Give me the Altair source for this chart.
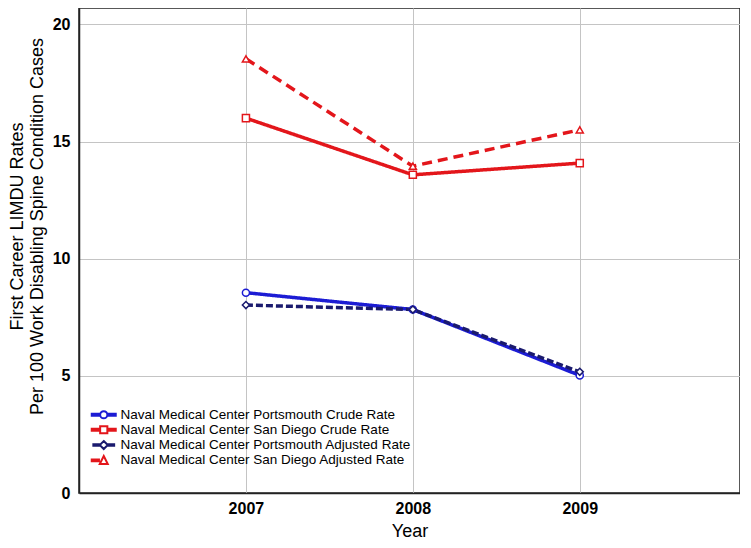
import altair as alt
import pandas as pd

years = [2007, 2008, 2009]
series_names = [
    "Naval Medical Center Portsmouth Crude Rate",
    "Naval Medical Center San Diego Crude Rate",
    "Naval Medical Center Portsmouth Adjusted Rate",
    "Naval Medical Center San Diego Adjusted Rate",
]
portsmouth_crude = [8.55, 7.83, 5.02]
san_diego_crude = [16.0, 13.58, 14.08]
portsmouth_adjusted = [8.02, 7.83, 5.17]
san_diego_adjusted = [18.53, 13.95, 15.5]

values_by_series = [portsmouth_crude, san_diego_crude, portsmouth_adjusted, san_diego_adjusted]
rows = []
for name, vals in zip(series_names, values_by_series):
    for yr, v in zip(years, vals):
        rows.append({"Year": yr, "Rate": v, "Series": name, "Legend": name})
df = pd.DataFrame(rows)

colors = ["#1c1cd4", "#e3161b", "#1a1a6e", "#e3161b"]
shapes = ["circle", "square", "diamond", "triangle-up"]
dashes = [[1, 0], [1, 0], [7, 3], [10, 6]]

# legend symbols: line segment + marker
seg_both = "M-3,-0.22H-1V0.22H-3Z M1,-0.22H3V0.22H1Z "
seg_both_d = "M-2.6,-0.2H-1.2V0.2H-2.6Z M1.2,-0.2H2.6V0.2H1.2Z "
seg_left = "M-3,-0.22H-1.2V0.22H-3Z "
legend_paths = [
    seg_both + "M-0.9,0A0.9,0.9,0,1,0,0.9,0A0.9,0.9,0,1,0,-0.9,0Z",
    seg_both + "M-0.9,-0.9H0.9V0.9H-0.9Z",
    seg_both_d + "M0,-1L1,0L0,1L-1,0Z",
    seg_left + "M0,-1.1L1,0.9H-1Z",
]

FONT = "Liberation Sans"

legend = alt.Legend(
    title=None,
    orient="none",
    legendX=18,
    legendY=400,
    symbolSize=64,
    symbolStrokeWidth=2,
    symbolFillColor="white",
    labelOffset=10,
    labelFontSize=13.5,
    labelFont=FONT,
    labelColor="black",
    rowPadding=-1.7,
    labelLimit=400,
    padding=0,
)

x_enc = alt.X(
    "Year:Q",
    scale=alt.Scale(domain=[2006, 2009.96], nice=False, zero=False),
    axis=alt.Axis(
        values=years,
        format="d",
        title="Year",
        ticks=False,
        labelFontSize=16,
        labelFontWeight="bold",
        labelPadding=7,
        titleFontSize=18,
        titleFontWeight="normal",
        titlePadding=6,
    ),
)
y_enc = alt.Y(
    "Rate:Q",
    scale=alt.Scale(domain=[0, 20.7], nice=False),
    axis=alt.Axis(
        values=[0, 5, 10, 15, 20],
        title=["First Career LIMDU Rates", "Per 100 Work Disabling Spine Condition Cases"],
        ticks=False,
        labelFontSize=16,
        labelFontWeight="bold",
        labelPadding=9,
        titleFontSize=18,
        titleFontWeight="normal",
        titleLineHeight=20,
        titlePadding=6,
        titleY=218,
    ),
)

color_plain = alt.Color("Series:N", scale=alt.Scale(domain=series_names, range=colors), legend=None)

lines = alt.Chart(df).mark_line(strokeWidth=3.5).encode(
    x=x_enc,
    y=y_enc,
    color=color_plain,
    strokeDash=alt.StrokeDash(
        "Series:N", scale=alt.Scale(domain=series_names, range=dashes), legend=None
    ),
    detail="Series:N",
)

points = alt.Chart(df).mark_point(filled=False, fill="white", fillOpacity=1, opacity=1, size=50, strokeWidth=1.5).encode(
    x=x_enc,
    y=y_enc,
    color=color_plain,
    shape=alt.Shape("Series:N", scale=alt.Scale(domain=series_names, range=shapes), legend=None),
)

legend_layer = (
    alt.Chart(df)
    .transform_filter("datum.Rate < 0")
    .mark_point(filled=False, fill="white", opacity=1, strokeWidth=2)
    .encode(
        x=x_enc,
        y=y_enc,
        color=alt.Color("Legend:N", scale=alt.Scale(domain=series_names, range=colors), legend=legend),
        shape=alt.Shape("Legend:N", scale=alt.Scale(domain=series_names, range=legend_paths), legend=legend),
    )
)

chart = (
    alt.layer(lines, points, legend_layer)
    .resolve_scale(color="independent", shape="independent")
    .properties(width=661, height=485, padding={"left": 0, "top": 0, "right": 0, "bottom": 0})
    .configure(font=FONT)
    .configure_view(stroke="#222222", strokeWidth=1.5)
    .configure_axis(
        domainColor="#222222",
        domainWidth=1.5,
        gridColor="#c4c4c4",
        gridWidth=1,
        labelColor="black",
        titleColor="black",
        labelFont=FONT,
        titleFont=FONT,
    )
)

chart.save("out.html", embed_options={"renderer": "svg", "actions": False})
